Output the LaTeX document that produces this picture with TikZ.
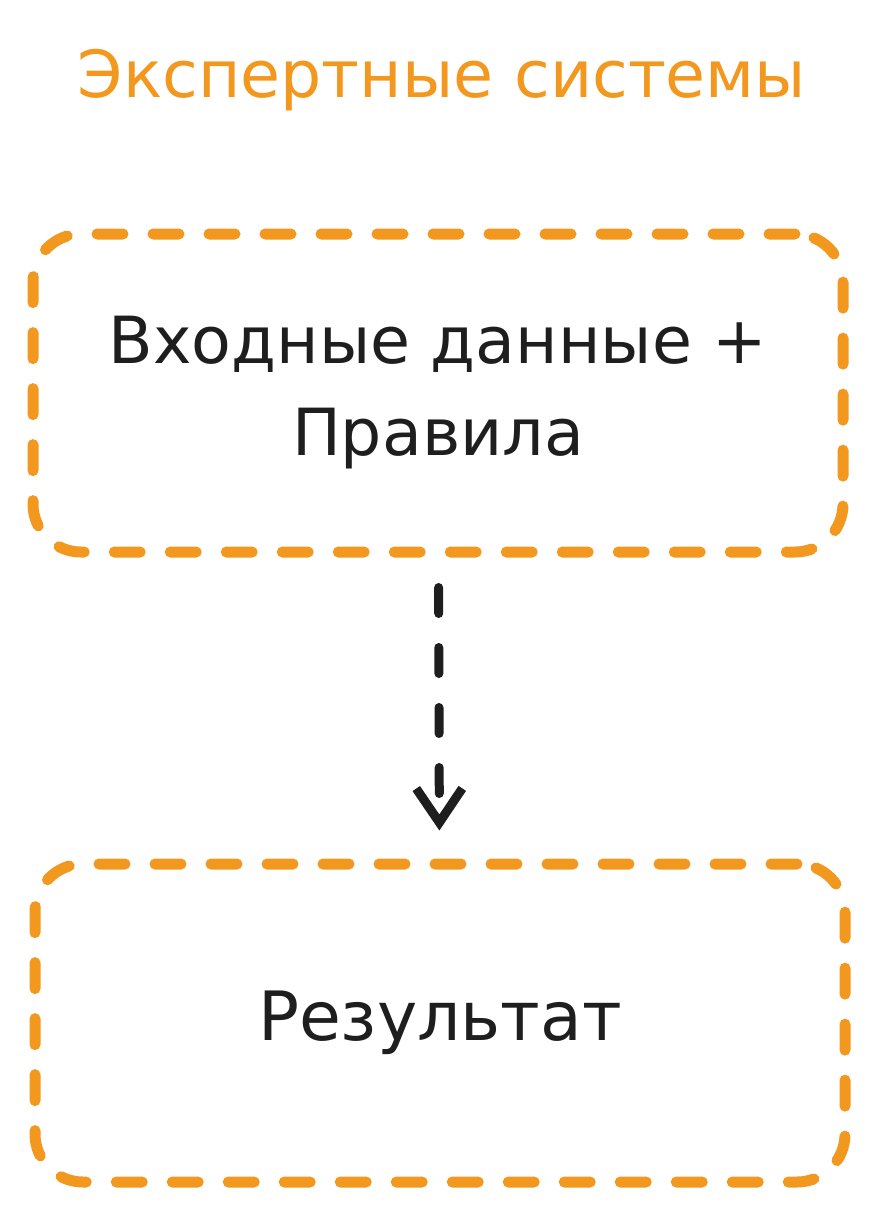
\documentclass[tikz,border=0pt]{standalone}
\usepackage{fontspec}
\setmainfont{DejaVu Sans}
\usetikzlibrary{positioning, arrows.meta}
\definecolor{sketchorange}{RGB}{242,152,30}
\definecolor{sketchink}{RGB}{30,30,30}

\begin{document}
\begin{tikzpicture}[x=1pt, y=-1pt,
    box/.style={draw=sketchorange, line width=11pt, line cap=round,
        dash pattern=on 26pt off 30pt, rounded corners=48pt,
        minimum width=810pt, minimum height=318pt, align=center,
        text=sketchink, font=\fontsize{65}{92}\selectfont},
    flow/.style={draw=sketchink, line width=9pt, line cap=round,
        dash pattern=on 26pt off 34pt,
        -{Straight Barb[length=34pt, width=46pt, line width=9pt]},
        shorten <=30pt, shorten >=28pt}]
    \useasboundingbox (0,0) rectangle (876,1216);
    \node[text=sketchorange, font=\fontsize{65}{70}\selectfont] (title) at (442,80) {Экспертные системы};
    \node[box] (rules) at (438,393) {Входные данные +\\Правила};
    \node[box] (result) at (440,1023) {\fontsize{68}{80}\selectfont Результат};

    \draw[flow] (rules) -- (result);
\end{tikzpicture}
\end{document}
